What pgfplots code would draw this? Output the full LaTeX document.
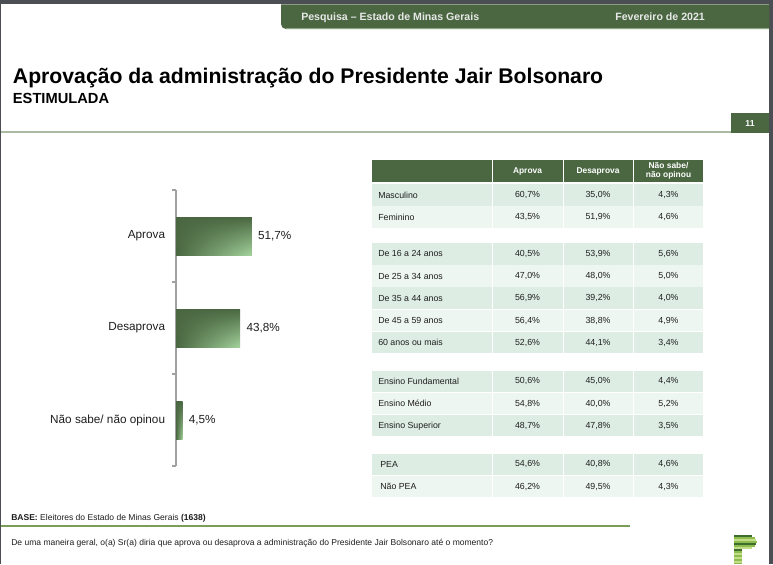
\documentclass[border=0pt]{standalone}
\usepackage{fontspec}
\setmainfont{Liberation Sans}
\usepackage{pgfplots}
\pgfplotsset{compat=1.18}
\usetikzlibrary{shadings}

\definecolor{hdr}{HTML}{4A6741}
\definecolor{hdrline}{HTML}{8FA883}
\definecolor{hdrtext}{HTML}{E8E8E8}
\definecolor{frame}{HTML}{4B4E53}
\definecolor{tline}{HTML}{A9BBA0}
\definecolor{fline}{HTML}{7A9E5A}
\definecolor{axgray}{HTML}{A0A0A0}
\definecolor{txt}{HTML}{1E1E1E}
\definecolor{barA}{HTML}{4A6741}
\definecolor{barB}{HTML}{A3D39C}
\definecolor{rowA}{HTML}{DDEDE3}
\definecolor{rowB}{HTML}{EEF6F1}
\definecolor{lgd}{HTML}{3E6B30}
\definecolor{lgm}{HTML}{8DBE4C}
\definecolor{lgl}{HTML}{C3DD8A}

% one table row: top, colour, label, aprova, desaprova, nao sabe
\newcommand\trow[6]{%
  \fill[#2] (372,#1) rectangle (491.5,{#1+21.5});
  \fill[#2] (493,#1) rectangle (562.5,{#1+21.5});
  \fill[#2] (564,#1) rectangle (632.5,{#1+21.5});
  \fill[#2] (634,#1) rectangle (703,{#1+21.5});
  \node[tcell, anchor=west] at (378,{#1+10.9}) {#3};
  \node[tcell] at (527.5,{#1+10.9}) {#4};
  \node[tcell] at (598,{#1+10.9}) {#5};
  \node[tcell] at (668.5,{#1+10.9}) {#6};
}

\begin{document}
\begin{tikzpicture}[x=0.75pt,y=-0.75pt,
  tcell/.style={inner sep=0pt, text=txt, font=\fontsize{6.6}{8}\selectfont},
  thead/.style={inner sep=0pt, text=white, align=center, font=\bfseries\fontsize{6.3}{7.4}\selectfont}]
\useasboundingbox (0,0) rectangle (773,564);
\fill[white] (0,0) rectangle (773,564);

% frame
\fill[frame] (0,0) rectangle (773,4.3);
\fill[frame] (769.3,0) rectangle (773,564);
\fill[frame] (0,0) rectangle (1.3,564);

% header band
\fill[hdr] (281,4.3) -- (281,24) arc[start angle=180,end angle=90,radius=5] -- (769.3,29) -- (769.3,4.3) -- cycle;
\draw[hdrline, line width=0.75pt] (286,28.8) -- (769.3,28.8);
\node[anchor=base west, inner sep=0pt, text=hdrtext, font=\bfseries\fontsize{7.95}{9}\selectfont] at (301,20) {Pesquisa – Estado de Minas Gerais};
\node[anchor=base west, inner sep=0pt, text=hdrtext, font=\bfseries\fontsize{7.95}{9}\selectfont] at (615,20) {Fevereiro de 2021};

% title
\node[anchor=base west, inner sep=0pt, text=black, font=\bfseries\fontsize{15.9}{18}\selectfont] at (12.7,83.3) {Aprovação da administração do Presidente Jair Bolsonaro};
\node[anchor=base west, inner sep=0pt, text=black, font=\bfseries\fontsize{11}{13}\selectfont] at (12.7,103.3) {ESTIMULADA};
\fill[tline] (1.3,131) rectangle (731,133);
\fill[hdr] (731,113) rectangle (769.3,133);
\node[inner sep=0pt, text=white, font=\bfseries\fontsize{6.5}{8}\selectfont] at (750,123.5) {11};

% bar chart
\begin{scope}[x=1cm,y=1cm]
\begin{axis}[at={(132pt,-142.5pt)}, anchor=north west,
  scale only axis, width=66pt, height=207pt,
  xmin=0, xmax=60, ymin=-0.5, ymax=2.5, clip=false,
  axis x line=none, axis y line*=left,
  y axis line style={draw=axgray, line width=0.8pt, -},
  ytick={0,1,2},
  yticklabels={Não sabe/ não opinou, Desaprova, Aprova},
  minor ytick={-0.5,0.5,1.5,2.5},
  major tick length=0pt, minor tick length=3pt, tick align=outside,
  minor tick style={draw=axgray, line width=0.8pt},
  yticklabel style={font=\fontsize{8.8}{10}\selectfont, text=txt, inner sep=0pt, xshift=-8pt},
  xbar, bar width=28.5pt, bar shift=0pt,
  point meta=x,
  nodes near coords={\pgfmathprintnumber{\pgfplotspointmeta}\%},
  nodes near coords style={font=\fontsize{8.8}{10}\selectfont, text=txt, anchor=west, inner sep=0pt, xshift=4.5pt},
  /pgf/number format/use comma,
  /pgf/number format/fixed,
  /pgf/number format/fixed zerofill,
  /pgf/number format/precision=1,
  /pgf/number format/assume math mode=true]
\addplot[draw=none, shade, upper left=barA, upper right=barA, lower left=barA, lower right=barB] coordinates {(51.7,2)};
\addplot[draw=none, shade, upper left=barA, upper right=barA, lower left=barA, lower right=barB] coordinates {(43.8,1)};
\addplot[draw=none, shade, upper left=barA, upper right=barA, lower left=barA, lower right=barB] coordinates {(4.5,0)};
\end{axis}
\end{scope}

% table
\fill[hdr] (372,160) rectangle (491.5,182);
\fill[hdr] (493,160) rectangle (562.5,182);
\fill[hdr] (564,160) rectangle (632.5,182);
\fill[hdr] (634,160) rectangle (703,182);
\node[thead] at (527.5,171) {Aprova};
\node[thead] at (598,171) {Desaprova};
\node[thead] at (668.5,170.8) {Não sabe/\\não opinou};

\trow{184}{rowA}{Masculino}{60,7\%}{35,0\%}{4,3\%}
\trow{206.2}{rowB}{Feminino}{43,5\%}{51,9\%}{4,6\%}
\trow{243}{rowA}{De 16 a 24 anos}{40,5\%}{53,9\%}{5,6\%}
\trow{265.2}{rowB}{De 25 a 34 anos}{47,0\%}{48,0\%}{5,0\%}
\trow{287.4}{rowA}{De 35 a 44 anos}{56,9\%}{39,2\%}{4,0\%}
\trow{309.6}{rowB}{De 45 a 59 anos}{56,4\%}{38,8\%}{4,9\%}
\trow{331.8}{rowA}{60 anos ou mais}{52,6\%}{44,1\%}{3,4\%}
\trow{370.5}{rowA}{Ensino Fundamental}{50,6\%}{45,0\%}{4,4\%}
\trow{392.7}{rowB}{Ensino Médio}{54,8\%}{40,0\%}{5,2\%}
\trow{414.9}{rowA}{Ensino Superior}{48,7\%}{47,8\%}{3,5\%}
\trow{453.5}{rowA}{\hspace{1.5pt}PEA}{54,6\%}{40,8\%}{4,6\%}
\trow{475.7}{rowB}{\hspace{1.5pt}Não PEA}{46,2\%}{49,5\%}{4,3\%}

% footer
\node[anchor=base west, inner sep=0pt, text=txt, font=\fontsize{6.4}{8}\selectfont] at (11,520) {\textbf{BASE:} Eleitores do Estado de Minas Gerais \textbf{(1638)}};
\fill[fline] (1.3,525.3) rectangle (630,526.8);
\node[anchor=base west, inner sep=0pt, text=txt, font=\fontsize{6.4}{8}\selectfont] at (11,545.5) {De uma maneira geral, o(a) Sr(a) diria que aprova ou desaprova a administração do Presidente Jair Bolsonaro até o momento?};

% logo
\foreach \yy/\xe/\cc in {535/752/lgd, 537/755/lgm, 539/756/lgl, 541/757/lgm, 543/756/lgd, 545/755/lgm, 547/752/lgl, 549/742/lgd, 551/742/lgm, 553/742/lgl, 555/742/lgm, 557/742/lgl, 559/742/lgm, 561/742/lgl}
  \fill[\cc] (734,\yy) rectangle (\xe,{\yy+1.8});
\fill[lgm] (734,563) rectangle (742,564);
\end{tikzpicture}
\end{document}
